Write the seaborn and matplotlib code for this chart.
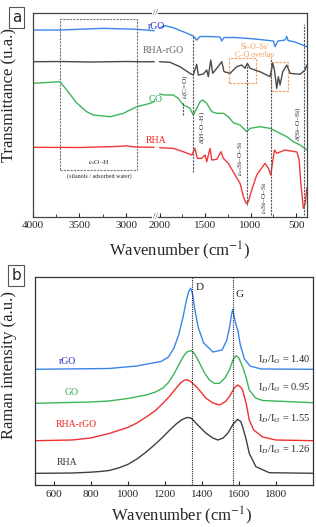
import numpy as np
import matplotlib
matplotlib.use('Agg')
import matplotlib.pyplot as plt
from matplotlib.patches import Rectangle
from matplotlib.ticker import FixedLocator
import seaborn as sns

sns.set_style('ticks')
plt.rcParams['font.family'] = ['Liberation Serif', 'DejaVu Serif']
plt.rcParams['mathtext.fontset'] = 'stix'

# ---------------- FTIR data (panel a), arbitrary transmittance units ----------------
# high wavenumber part (4000-2700) and low part (2000-380), separated by the axis break
rgo_hi_w = [4000, 3708, 3244, 2887, 2700]
rgo_hi_t = [187, 187, 188.7, 187.7, 186.3]
rgo_lo_w = [2000, 1940, 1849, 1739, 1629, 1591, 1555, 1445, 1335, 1316, 1291, 1170, 1042,
            896, 749, 731, 698, 621, 602, 588, 511, 382]
rgo_lo_t = [189, 191.3, 189.3, 185.3, 181, 177, 180.5, 180.5, 180, 176, 179.5, 179.5, 178.7,
            177.5, 176, 170.3, 176, 177, 180.5, 176.5, 175, 170.3]

rharGO_hi_w = [4000, 3700, 3400, 3000, 2800, 2700]
rharGO_hi_t = [155.3, 155.5, 155, 155.5, 155.2, 155.3]
rharGO_lo_w = [2000, 1885, 1775, 1665, 1629, 1591, 1574, 1519, 1481, 1464, 1437, 1415, 1371,
               1316, 1291, 1225, 1152, 1097, 1060, 1035, 1005, 896, 786, 756, 738, 712, 695,
               676, 646, 602, 566, 456, 401, 382]
rharGO_lo_t = [155.3, 154.7, 150.3, 143.7, 142, 152.7, 142, 143, 147, 140.3, 157, 143.7, 148.7,
               155.3, 145.3, 143.7, 150.3, 152, 148.7, 153.7, 148.7, 145.3, 140.3, 153.7, 147,
               128.7, 140.3, 132, 145.3, 152, 143.7, 142.7, 147, 152]

go_hi_w = [4000, 3708, 3636, 3529, 3422, 3351, 3172, 3030, 2887, 2744, 2700]
go_hi_t = [133.7, 135.3, 127, 114, 105.3, 102, 100.3, 103.7, 110.3, 113.7, 115.5]
go_lo_w = [2000, 1940, 1849, 1794, 1739, 1701, 1665, 1629, 1591, 1555, 1525, 1481, 1426, 1371,
           1299, 1244, 1189, 1115, 1042, 1005, 896, 786, 676, 602, 530, 456, 382]
go_lo_t = [123, 122, 122, 118.7, 112, 110.5, 108.7, 102, 108.7, 115.3, 117, 113.7, 105.3, 103.7,
           103.7, 100.3, 94.3, 92, 85.3, 88.7, 90.3, 88.7, 83.7, 80.3, 75.3, 72, 67]

rha_hi_w = [4000, 3500, 3100, 3000, 2900, 2700]
rha_hi_t = [69.7, 69.5, 70.5, 71.2, 70, 69.7]
rha_lo_w = [2000, 1849, 1738, 1646, 1610, 1585, 1536, 1500, 1481, 1445, 1426, 1371, 1324, 1299,
            1244, 1170, 1115, 1079, 1049, 1024, 987, 932, 841, 804, 778, 749, 736, 712, 621,
            490, 466, 448, 420, 398, 382]
rha_lo_t = [69.3, 68.7, 65.3, 62, 68.7, 58.7, 58.7, 62, 55.3, 68.7, 57, 57.7, 65.3, 58.7, 53.7,
            42, 33.7, 20.3, 13.7, 15.3, 27, 42, 53.7, 48.7, 42, 60.3, 67, 63.7, 67, 65, 57,
            34, 8.7, 14, 29]

ftir_series = [
    ('rGO', rgo_hi_w, rgo_hi_t, rgo_lo_w, rgo_lo_t, '#3a86e8'),
    ('RHA-rGO', rharGO_hi_w, rharGO_hi_t, rharGO_lo_w, rharGO_lo_t, '#4a4a4a'),
    ('GO', go_hi_w, go_hi_t, go_lo_w, go_lo_t, '#3cb55a'),
    ('RHA', rha_hi_w, rha_hi_t, rha_lo_w, rha_lo_t, '#f03a3a'),
]

# vertical band markers: (wavenumber, y from, y to, label, label wavenumber, label y)
ftir_bands = [
    (1739, 102, 115.3, r'$\nu$(C=O)', 1722, 130),
    (1630, 45, 182, r'$\delta$(H–O–H)', 1533, 90),
    (1042, 12, 155, r'$\nu_{as}$Si–O–Si', 1110, 59),
    (778, 2, 159, r'$\nu_s$Si–O–Si', 846, 19),
    (412, 2, 193, r'$\delta$(Si–O–Si)', 473, 93),
]

# ---------------- Raman data (panel b) ----------------
rgo_r_w = [500, 900, 1050, 1120, 1180, 1220, 1250, 1275, 1300, 1315, 1328, 1340, 1350, 1362,
           1380, 1410, 1460, 1510, 1535, 1550, 1560, 1567, 1575, 1585, 1595, 1608, 1630, 1660,
           1720, 2000]
rgo_r_i = [115.7, 116.5, 119, 121.5, 123.5, 128, 137, 150, 169, 183, 193, 196.7, 191, 176,
           158, 142, 133, 135, 145, 158, 170, 175.7, 168, 160, 154, 140, 126, 119, 116, 115.7]
go_r_w = [500, 800, 900, 1000, 1100, 1150, 1190, 1220, 1250, 1275, 1300, 1320, 1340, 1360,
          1385, 1415, 1441, 1470, 1495, 1525, 1549, 1568, 1584, 1600, 1620, 1640, 1656, 1690,
          1728, 2000]
go_r_i = [81.7, 83, 84, 86.5, 90, 93, 97, 102.5, 111, 120, 128.5, 133, 134.5, 131.5, 123,
          112, 105, 101.5, 101.7, 107, 115, 125, 129.3, 127, 118.3, 107, 95, 87, 84.5, 82.3]
rharGO_r_w = [500, 700, 800, 900, 1000, 1050, 1100, 1150, 1190, 1230, 1262, 1285, 1305, 1320,
              1340, 1369, 1400, 1423, 1460, 1495, 1525, 1549, 1575, 1593, 1610, 1620, 1640,
              1656, 1680, 1728, 1800, 2000]
rharGO_r_i = [44.3, 45, 47, 51.5, 57.5, 62, 68, 74.5, 81.7, 89.5, 97, 102, 104.8, 105.3,
              103.5, 98.5, 92, 86.7, 82, 80, 83, 88.3, 97, 100, 98, 95, 81, 65, 55, 48, 45,
              44.3]
rha_r_w = [500, 600, 700, 800, 850, 900, 950, 1000, 1050, 1100, 1150, 1190, 1230, 1262, 1290,
           1315, 1330, 1345, 1369, 1400, 1423, 1460, 1486, 1515, 1540, 1570, 1593, 1610, 1620,
           1640, 1656, 1692, 1764, 2000]
rha_r_i = [11.7, 11.8, 12, 12.8, 13.5, 14.5, 17, 20.5, 26, 33, 41, 48, 55.5, 61, 65, 67.2,
           67.5, 66.5, 61.7, 56, 51.7, 47, 45, 47, 51.7, 61, 65.7, 63.5, 58.3, 45, 31.7, 18.3,
           12.3, 11.7]

raman_series = [
    ('rGO', rgo_r_w, rgo_r_i, '#3a86e8', '#2233bb', 677, 123, '1.40', 125),
    ('GO', go_r_w, go_r_i, '#3cb55a', '#2eaa4a', 697, 92, '0.95', 97),
    ('RHA-rGO', rharGO_r_w, rharGO_r_i, '#f03030', '#f02020', 724, 60, '1.55', 66),
    ('RHA', rha_r_w, rha_r_i, '#404040', '#333333', 670, 22, '1.26', 35),
]
raman_peaks = [('D', 1345), ('G', 1570)]

# ---------------- figure ----------------
fig = plt.figure(figsize=(3.16, 5.27), dpi=100)
ax1 = fig.add_axes([0.1035, 0.5882, 0.868, 0.3871])
ax2 = fig.add_axes([0.1108, 0.0797, 0.8797, 0.3947])

# broken wavenumber axis as a piecewise linear scale (increasing, axis inverted by xlim)
brk_w = [380, 2000, 2690, 4000]
brk_u = [0, 147.5, 151.9, 274.3]


def fwd(w):
    return np.interp(w, brk_w, brk_u)


def inv(u):
    return np.interp(u, brk_u, brk_w)


ax1.set_xscale('function', functions=(fwd, inv))

for name, hw, ht, lw_, lt, col in ftir_series:
    sns.lineplot(x=hw, y=ht, ax=ax1, color=col, lw=1, estimator=None)
    sns.lineplot(x=lw_, y=lt, ax=ax1, color=col, lw=1, estimator=None)

for w, y0, y1, lab, lw_pos, ly in ftir_bands:
    ax1.vlines(w, y0, y1, colors='#555555', linestyles=(0, (2, 1)), lw=0.8)
    ax1.text(lw_pos, ly, lab, rotation=90, ha='center', va='center', fontsize=5.3, color='#222222')

# silanol / adsorbed water box
ax1.add_patch(Rectangle((3708, 47), 2887 - 3708, 151, fill=False, ec='#777777',
                        ls=(0, (2, 1)), lw=0.8))
ax1.text(3290, 54, r'$\nu_s$O–H', ha='center', va='center', fontsize=5.3)
ax1.text(3290, 41, '(silanols / adsorbed water)', ha='center', va='center', fontsize=4.3)

# Si-O-Si / C-O overlap boxes
for x0, x1, y0, y1 in [(1236, 940, 134.3, 158.7), (778, 585, 126, 155.3)]:
    ax1.add_patch(Rectangle((x0, y0), x1 - x0, y1 - y0, fill=False, ec='#f5a56a',
                            ls=(0, (2, 1)), lw=0.9))
ax1.text(951, 166, 'Si–O–Si/\nC–O overlap', ha='center', va='center', fontsize=5.5,
         color='#f39a55', linespacing=1.1)

# curve labels
for lab, xf, yf, col in [('rGO', 0.4495, 0.936, '#2233bb'), ('RHA-rGO', 0.475, 0.814, '#666666'),
                         ('GO', 0.4495, 0.578, '#2eaa4a'), ('RHA', 0.4495, 0.377, '#f02020')]:
    ax1.text(xf, yf, lab, transform=ax1.transAxes, ha='center', va='center', fontsize=7,
             color=col)

ax1.set_xlim(4000, 380)
ax1.set_ylim(0, 204)
ax1.xaxis.set_major_locator(FixedLocator([4000, 3500, 3000, 2000, 1500, 1000, 500]))
ax1.xaxis.set_minor_locator(FixedLocator([3750, 3250, 1750, 1250, 750]))
ax1.set_xticklabels(['4000', '3500', '3000', '2000', '1500', '1000', '500'])
ax1.set_yticks([])
ax1.tick_params(axis='x', which='major', direction='in', length=3, width=0.8, labelsize=8, pad=3)
ax1.tick_params(axis='x', which='minor', direction='in', length=2, width=0.6)
for s in ax1.spines.values():
    s.set_color('#444444')
    s.set_linewidth(0.9)
# axis break marks
for yb in (0, 1):
    ax1.text(0.446, yb, '//', transform=ax1.transAxes, ha='center', va='center', fontsize=6,
             color='#333333', bbox=dict(fc='white', ec='none', pad=0.2))
ax1.set_xlabel('Wavenumber (cm$^{-1}$)', fontsize=12)
ax1.set_ylabel('Transmittance (u.a.)', fontsize=12)
ax1.xaxis.set_label_coords(0.537, -0.11)
ax1.yaxis.set_label_coords(-0.057, 0.598)

# ---------------- panel b ----------------
for name, w, inten, col, tcol, tx, ty, ratio, ry in raman_series:
    sns.lineplot(x=w, y=inten, ax=ax2, color=col, lw=1, estimator=None)
    ax2.text(tx, ty, name, ha='center', va='center', fontsize=7, color=tcol)
    ax2.text(1844, ry, r'I$_D$/I$_G$ = ' + ratio, ha='center', va='center', fontsize=7.5)

for lab, w in raman_peaks:
    ax2.axvline(w, color='#222222', ls=(0, (1, 1)), lw=0.8)
ax2.text(1387, 197, 'D', ha='center', va='center', fontsize=8)
ax2.text(1602, 190, 'G', ha='center', va='center', fontsize=8)

ax2.set_xlim(500, 2000)
ax2.set_ylim(0, 208)
ax2.set_xticks([600, 800, 1000, 1200, 1400, 1600, 1800])
ax2.set_yticks([])
ax2.tick_params(axis='x', direction='in', length=3, width=0.8, labelsize=8, pad=3.5)
for s in ax2.spines.values():
    s.set_color('#333333')
    s.set_linewidth(0.9)
ax2.set_xlabel('Wavenumber (cm$^{-1}$)', fontsize=12)
ax2.set_ylabel('Raman intensity (a.u.)', fontsize=12)
ax2.xaxis.set_label_coords(0.528, -0.095)
ax2.yaxis.set_label_coords(-0.065, 0.577)

# panel letters
fig.text(0.052, 0.967, 'a', family='DejaVu Sans', fontsize=11, ha='center', va='center',
         bbox=dict(boxstyle='square,pad=0.2', fc='white', ec='#555555', lw=0.8))
fig.text(0.051, 0.478, 'b', family='DejaVu Sans', fontsize=11, ha='center', va='center',
         bbox=dict(boxstyle='square,pad=0.2', fc='white', ec='#555555', lw=0.8))

fig.savefig('out.png', dpi=100)
